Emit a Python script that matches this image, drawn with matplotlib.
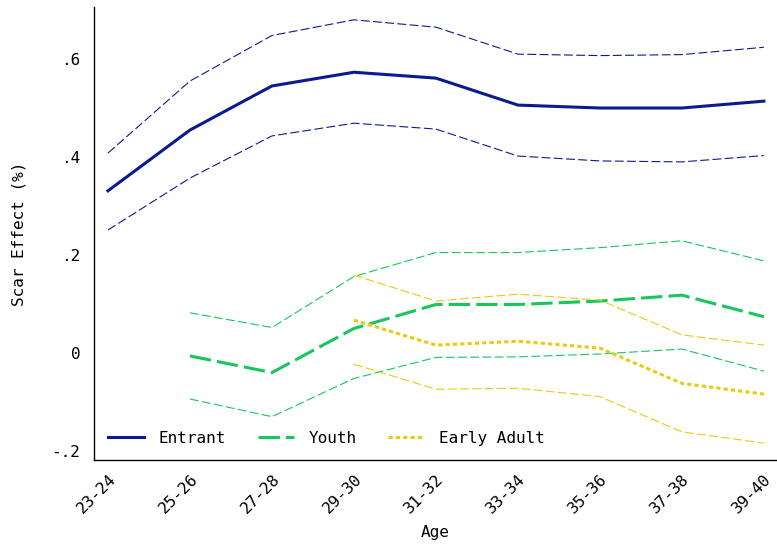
import matplotlib
matplotlib.use("Agg")
import matplotlib.pyplot as plt
import numpy as np

ages = ["23-24", "25-26", "27-28", "29-30", "31-32", "33-34", "35-36", "37-38", "39-40"]

entrant = [0.331, 0.455, 0.545, 0.573, 0.561, 0.506, 0.500, 0.500, 0.514]
entrant_hi = [0.408, 0.555, 0.648, 0.680, 0.665, 0.610, 0.607, 0.609, 0.624]
entrant_lo = [0.251, 0.357, 0.443, 0.469, 0.457, 0.402, 0.392, 0.390, 0.403]

youth = [np.nan, -0.006, -0.040, 0.050, 0.099, 0.099, 0.106, 0.118, 0.074]
youth_hi = [np.nan, 0.082, 0.052, 0.156, 0.205, 0.205, 0.215, 0.229, 0.188]
youth_lo = [np.nan, -0.094, -0.130, -0.052, -0.009, -0.008, -0.002, 0.008, -0.037]

early = [np.nan, np.nan, np.nan, 0.067, 0.016, 0.024, 0.010, -0.062, -0.084]
early_hi = [np.nan, np.nan, np.nan, 0.159, 0.106, 0.120, 0.108, 0.037, 0.016]
early_lo = [np.nan, np.nan, np.nan, -0.023, -0.074, -0.072, -0.089, -0.161, -0.184]

yticks = [-0.2, 0.0, 0.2, 0.4, 0.6]
ytick_labels = ["-.2", "0", ".2", ".4", ".6"]

NAVY = "#0b1a8e"
GREEN = "#19c65c"
GOLD = "#e8cc10"

CI_DASH = (0, (8, 3))

plt.rcParams["font.family"] = ["DejaVu Sans Mono"]
plt.rcParams["font.size"] = 11.5

fig = plt.figure(figsize=(7.77, 5.45), dpi=100)
ax = fig.add_axes([0.121, 0.156, 0.879, 0.831])
x = np.arange(len(ages))

ax.plot(x, entrant, color=NAVY, lw=2.2, ls="-", label="Entrant")
ax.plot(x, entrant_hi, color=NAVY, lw=0.8, ls=CI_DASH)
ax.plot(x, entrant_lo, color=NAVY, lw=0.8, ls=CI_DASH)

ax.plot(x, youth, color=GREEN, lw=2.2, ls=(0, (7, 2)), label="Youth")
ax.plot(x, youth_hi, color=GREEN, lw=0.8, ls=CI_DASH)
ax.plot(x, youth_lo, color=GREEN, lw=0.8, ls=CI_DASH)

ax.plot(x, early, color=GOLD, lw=2.2, ls=(0, (1.4, 1.0)), label="Early Adult")
ax.plot(x, early_hi, color=GOLD, lw=0.8, ls=CI_DASH)
ax.plot(x, early_lo, color=GOLD, lw=0.8, ls=CI_DASH)

ax.set_xlim(-0.17, 8.16)
ax.set_ylim(-0.2184, 0.706)
ax.set_xticks(x)
ax.set_xticklabels(ages, rotation=45, ha="right", rotation_mode="anchor")
ax.set_yticks(yticks)
ax.set_yticklabels(ytick_labels)
ax.tick_params(axis="y", length=0, pad=10)
ax.tick_params(axis="x", length=0, pad=8)

ax.spines["top"].set_visible(False)
ax.spines["right"].set_visible(False)
for s in ("left", "bottom"):
    ax.spines[s].set_linewidth(1.0)

ax.set_xlabel("Age", labelpad=7)
ax.set_ylabel("Scar Effect (%)", labelpad=18)

ax.legend(loc="lower left", ncol=3, frameon=False, handlelength=2.25,
          handletextpad=0.9, columnspacing=2.0, bbox_to_anchor=(0.0, 0.0))

fig.savefig("out.png", dpi=100)
